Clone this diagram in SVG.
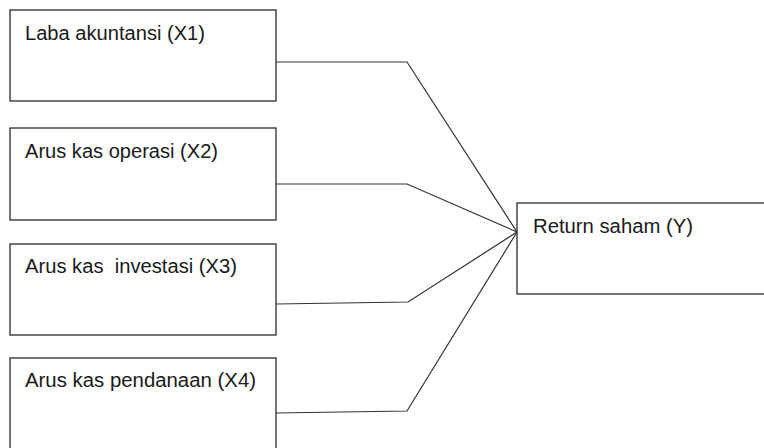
<svg xmlns="http://www.w3.org/2000/svg" width="764" height="448" viewBox="0 0 764 448">
<style>
.box{fill:#fff;stroke:#2b2b2b;stroke-width:1.3}
.lbl{font-family:"Liberation Sans",Arial,sans-serif;font-size:20px;fill:#1a1a1a}
.con{fill:none;stroke:#333;stroke-width:1.2;stroke-linejoin:miter}
</style>
<rect width="764" height="448" fill="#fff"/>
<g id="connectors">
<polyline class="con" points="276,62 407,62 517,232"/>
<polyline class="con" points="276,184 407,184 517,232"/>
<polyline class="con" points="276,304 408,302 517,232"/>
<polyline class="con" points="276,413 407,411 517,232"/>
</g>
<g id="x1">
<rect class="box" x="10" y="10" width="266" height="91"/>
<text class="lbl" x="25" y="40" textLength="180" lengthAdjust="spacingAndGlyphs">Laba akuntansi (X1)</text>
</g>
<g id="x2">
<rect class="box" x="10" y="128" width="266" height="92"/>
<text class="lbl" x="25" y="158" textLength="193" lengthAdjust="spacingAndGlyphs">Arus kas operasi (X2)</text>
</g>
<g id="x3">
<rect class="box" x="10" y="244" width="266" height="91"/>
<text class="lbl" x="25" y="273" textLength="212" lengthAdjust="spacingAndGlyphs" xml:space="preserve">Arus kas  investasi (X3)</text>
</g>
<g id="x4">
<rect class="box" x="10" y="358" width="266" height="100"/>
<text class="lbl" x="25" y="387" textLength="231" lengthAdjust="spacingAndGlyphs">Arus kas pendanaan (X4)</text>
</g>
<g id="y">
<rect class="box" x="517" y="203" width="260" height="91"/>
<text class="lbl" x="533" y="233" textLength="160" lengthAdjust="spacingAndGlyphs">Return saham (Y)</text>
</g>
</svg>
